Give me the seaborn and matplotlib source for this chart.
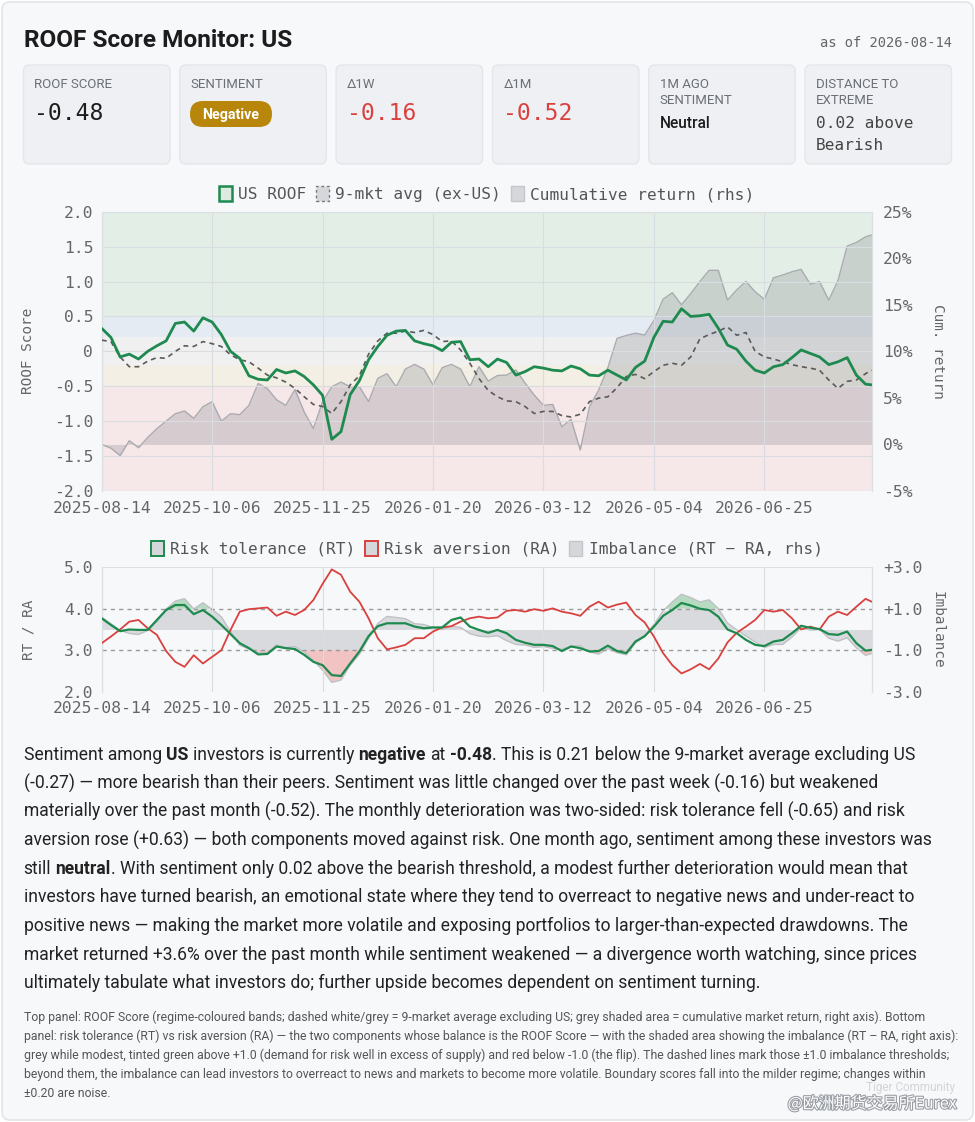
import numpy as np
import matplotlib
matplotlib.use("Agg")
import matplotlib.pyplot as plt
import seaborn as sns
from matplotlib.patches import FancyBboxPatch, Patch, Rectangle
from matplotlib.transforms import IdentityTransform, blended_transform_factory
import matplotlib.patheffects as pe

# ---------------- data (sampled every 3rd trading day + last day) ----------------
tick_labels = ["2025-08-14", "2025-10-06", "2025-11-25", "2026-01-20",
               "2026-03-12", "2026-05-04", "2026-06-25"]

us_roof = [0.33, 0.20, -0.08, -0.04, -0.11, 0.00, 0.08, 0.15, 0.40, 0.42,
           0.29, 0.48, 0.42, 0.24, 0.00, -0.10, -0.35, -0.40, -0.41, -0.26,
           -0.31, -0.28, -0.36, -0.48, -0.63, -1.26, -1.15, -0.62, -0.42,
           -0.12, 0.07, 0.23, 0.29, 0.30, 0.15, 0.11, 0.08, 0.01, 0.13,
           0.14, -0.12, -0.11, -0.22, -0.11, -0.16, -0.34, -0.29, -0.22, -0.24,
           -0.27, -0.28, -0.21, -0.25, -0.34, -0.35, -0.27, -0.34,
           -0.41, -0.23, -0.14, 0.20, 0.43, 0.42, 0.61, 0.50, 0.51, 0.53,
           0.33, 0.09, 0.03, -0.14, -0.27, -0.31, -0.22, -0.19, -0.09, 0.02,
           -0.03, -0.08, -0.19, -0.15, -0.09, -0.34, -0.47, -0.48]

avg_ex_us = [0.16, 0.14, -0.08, -0.22, -0.22, -0.14, -0.09, -0.10, 0.00, 0.08,
             0.07, 0.14, 0.11, 0.07, -0.05, -0.12, -0.15, -0.24, -0.34, -0.38,
             -0.44, -0.53, -0.65, -0.76, -0.79, -0.89, -0.72, -0.48, -0.35,
             -0.04, 0.15, 0.26, 0.26, 0.29, 0.27, 0.30, 0.24, 0.14, 0.15,
             0.02, -0.17, -0.39, -0.56, -0.65, -0.71, -0.72, -0.79, -0.89, -0.86,
             -0.86, -0.92, -0.94, -0.90, -0.72, -0.67, -0.65, -0.52,
             -0.36, -0.33, -0.39, -0.29, -0.20, -0.17, -0.20, -0.08, 0.18, 0.24,
             0.29, 0.35, 0.23, 0.27, 0.00, -0.08, -0.11, -0.15, -0.19, -0.22,
             -0.24, -0.27, -0.41, -0.53, -0.43, -0.41, -0.32, -0.27]

cum_return = [0.0, -0.4, -1.2, 0.4, -0.35, 0.75, 1.7, 2.5, 3.3, 3.6,
              2.8, 4.05, 4.6, 2.5, 3.3, 3.2, 4.2, 6.55, 6.0, 4.8,
              4.2, 5.9, 3.5, 1.7, 4.6, 6.2, 6.7, 6.2, 6.2,
              4.6, 7.1, 7.6, 6.2, 8.1, 8.6, 8.1, 6.4, 8.25, 8.6,
              8.1, 6.2, 8.35, 6.8, 7.4, 7.45, 8.0, 6.6, 5.3, 4.2,
              4.3, 1.9, 2.7, -0.6, 4.05, 5.85, 8.25, 11.4,
              11.7, 11.95, 11.75, 13.3, 15.6, 16.3, 15.0, 16.2, 17.5, 18.7,
              18.7, 15.5, 16.6, 17.5, 16.4, 15.6, 17.9, 18.2, 18.55, 18.8,
              17.2, 17.5, 15.5, 17.6, 21.3, 21.7, 22.3, 22.5]

risk_tol = [3.77, 3.61, 3.46, 3.50, 3.49, 3.49, 3.73, 3.97, 4.09, 4.09,
            3.87, 3.97, 3.81, 3.61, 3.39, 3.17, 3.05, 2.90, 2.91, 3.09,
            3.05, 3.03, 2.89, 2.72, 2.64, 2.40, 2.38, 2.68, 2.97,
            3.34, 3.58, 3.65, 3.65, 3.65, 3.57, 3.53, 3.55, 3.55, 3.73,
            3.79, 3.57, 3.49, 3.42, 3.49, 3.41, 3.25, 3.18, 3.13, 3.13,
            3.10, 2.98, 3.09, 3.05, 2.97, 2.98, 3.11, 2.98,
            2.93, 3.21, 3.34, 3.57, 3.83, 3.97, 4.14, 4.08, 4.00, 3.97,
            3.81, 3.50, 3.41, 3.25, 3.13, 3.10, 3.21, 3.25, 3.41, 3.59,
            3.54, 3.51, 3.39, 3.37, 3.45, 3.17, 2.99, 3.01]

risk_av = [3.17, 3.33, 3.50, 3.69, 3.73, 3.53, 3.37, 2.98, 2.72, 2.60,
           2.88, 2.68, 2.84, 3.00, 3.49, 3.93, 3.99, 4.01, 4.03, 3.83,
           3.93, 3.85, 3.97, 4.21, 4.60, 4.95, 4.82, 4.41, 4.17,
           3.77, 3.29, 3.02, 3.07, 3.13, 3.29, 3.29, 3.45, 3.55, 3.58,
           3.69, 3.77, 3.81, 3.77, 3.79, 3.95, 3.97, 3.93, 3.99, 3.95,
           4.01, 3.93, 3.89, 3.83, 4.05, 4.17, 4.03, 4.10,
           4.15, 3.85, 3.67, 3.33, 2.93, 2.64, 2.44, 2.54, 2.67, 2.54,
           2.80, 3.19, 3.42, 3.57, 3.73, 3.97, 3.93, 3.97, 3.77, 3.50,
           3.57, 3.50, 3.81, 3.93, 3.85, 4.05, 4.24, 4.17]

regime_bounds = [-2.0, -0.5, -0.2, 0.2, 0.5, 2.0]
regime_colors = ["#f6e7e8", "#f3efe4", "#eff0ef", "#e4ebf2", "#e3eee6"]

card_labels = [["ROOF SCORE"], ["SENTIMENT"], ["\u03941W"], ["\u03941M"],
               ["1M AGO", "SENTIMENT"], ["DISTANCE TO", "EXTREME"]]

n_days = 252
x = np.r_[np.arange(0, n_days - 2, 3), n_days - 1]
imbalance = np.array(risk_tol) - np.array(risk_av)

# ---------------- styling ----------------
sns.set_theme(style="white")
plt.rcParams['font.family'] = ['DejaVu Sans Mono', 'DejaVu Sans']
W, H = 975, 1122
fig = plt.figure(figsize=(W / 100, H / 100), dpi=100, facecolor="white")
R = fig.canvas.get_renderer()

PAGE = "#f7f8fa"
GREEN = "#1e8a4f"
RED = "#d9413f"
TICK = "#666666"
GRID = "#d9dce0"
SANS = ["Roboto", "DejaVu Sans"]
BODY = ["Roboto", "DejaVu Sans"]
MONO = ["DejaVu Sans Mono", "DejaVu Sans"]

def P(xp, yp):
    return (xp / W, 1 - yp / H)

def rect(l, t, r, b):
    return [l / W, 1 - b / H, (r - l) / W, (b - t) / H]

# page card
fig.add_artist(FancyBboxPatch((2, 2), W - 4, H - 4, boxstyle="round,pad=0,rounding_size=8",
                              transform=IdentityTransform(), fc=PAGE, ec="#e2e5e9", lw=1.2, zorder=-10))

# title
t = fig.text(*P(23.5, 47), "ROOF Score Monitor: US", fontsize=16, fontweight="bold",
             family=SANS, color="#1c1c1c", va="baseline", ha="left")
w = t.get_window_extent(renderer=R).width
t.set_fontsize(16 * 269 / w)
fig.text(*P(951.5, 43), "as of 2026-08-14", fontsize=9.9, family=MONO, color=TICK,
         va="center", ha="right")

# cards
card_w, card_step = 146.5, 156.3
for i, lab in enumerate(card_labels):
    x0 = 23.5 + card_step * i
    fig.add_artist(FancyBboxPatch((x0, H - 164), card_w, 99, boxstyle="round,pad=0,rounding_size=6",
                                  transform=IdentityTransform(), fc="#eef0f4", ec="#e3e6ea",
                                  lw=1, zorder=-9))
    for j, ln in enumerate(lab):
        fig.text(*P(x0 + 11, 85 + 16 * j), ln, fontsize=9.5, family=SANS, color="#6b6f76",
                 va="center", ha="left")

def cx(i):
    return 23.5 + card_step * i + 11

fig.text(*P(cx(0), 113), "-0.48", fontsize=16.6, family=MONO, color="#1c1c1c", va="center")
fig.add_artist(FancyBboxPatch((190, H - 127), 82, 26, boxstyle="round,pad=0,rounding_size=13",
                              transform=IdentityTransform(), fc="#b8860b", ec="none", zorder=-8))
fig.text(*P(231, 114.5), "Negative", fontsize=10.2, family=SANS, fontweight="bold",
         color="white", va="center", ha="center")
fig.text(*P(cx(2), 113), "-0.16", fontsize=16.6, family=MONO, color=RED, va="center")
fig.text(*P(cx(3), 113), "-0.52", fontsize=16.6, family=MONO, color=RED, va="center")
fig.text(*P(cx(4), 123), "Neutral", fontsize=11.2, family=SANS, fontweight="medium",
         color="#1c1c1c", va="center")
fig.text(*P(cx(5), 123), "0.02 above", fontsize=11.6, family=MONO, color="#444444", va="center")
fig.text(*P(cx(5), 145), "Bearish", fontsize=11.6, family=MONO, color="#444444", va="center")

# ---------------- top chart ----------------
ax = fig.add_axes(rect(101.7, 211.7, 871.7, 491))
ax2 = ax.twinx()
ax.set_zorder(ax2.get_zorder() + 1)
ax.patch.set_visible(False)
ax2.patch.set_visible(False)
ax.set_xlim(0, n_days - 1)
ax.set_ylim(-2, 2)
ax2.set_ylim(-5, 25)

band_tr = blended_transform_factory(ax2.transAxes, ax.transData)
for lo, hi, c in zip(regime_bounds[:-1], regime_bounds[1:], regime_colors):
    ax2.add_patch(Rectangle((0, lo), 1, hi - lo, transform=band_tr, fc=c, ec="none", zorder=0))

ax2.fill_between(x, 0, cum_return, color="#8e9096", alpha=0.30, lw=0, zorder=2)
sns.lineplot(x=x, y=cum_return, ax=ax2, color="#a9abb0", linewidth=1.0, zorder=3)

sns.lineplot(x=x, y=avg_ex_us, ax=ax, color="#5a5a5a", linewidth=1.2,
             linestyle=(0, (3, 2.5)), zorder=4)
sns.lineplot(x=x, y=us_roof, ax=ax, color=GREEN, linewidth=2.0, zorder=5)

ax.set_xticks(np.arange(0, n_days, 36))
ax.set_xticklabels(tick_labels)
top_ticks = [2.0, 1.5, 1.0, 0.5, 0.0, -0.5, -1.0, -1.5, -2.0]
ax.set_yticks(top_ticks)
ax.set_yticklabels(["2.0", "1.5", "1.0", "0.5", "0", "-0.5", "-1.0", "-1.5", "-2.0"])
ret_ticks = [25, 20, 15, 10, 5, 0, -5]
ax2.set_yticks(ret_ticks)
ax2.set_yticklabels([f"{v}%" for v in ret_ticks])
ax.grid(True, color=GRID, lw=0.8)
ax2.grid(False)
for a in (ax, ax2):
    for s in ("top", "bottom"):
        a.spines[s].set_visible(False)
    for s in ("left", "right"):
        a.spines[s].set_color("#dcdfe3")
        a.spines[s].set_linewidth(0.8)
    a.tick_params(length=0, labelsize=11.8, labelcolor=TICK)
ax.tick_params(axis="y", pad=6)
ax.tick_params(axis="x", pad=7)
ax2.tick_params(axis="y", pad=8)
ax.set_xlabel("")
ax.set_ylabel("ROOF Score", fontsize=10.4, color=TICK)
ax.yaxis.set_label_coords(-0.0866, 0.5)
ax2.set_ylabel("Cum. return", fontsize=10.4, color=TICK, rotation=-90, va="center")
ax2.yaxis.set_label_coords(1.086, 0.5)

h_top = [Patch(fc="#dde9e1", ec=GREEN, lw=1.8),
         Patch(fc="#d6d7da", ec="#777777", lw=1.0, ls=(0, (2, 2))),
         Patch(fc="#d6d7da", ec="#c4c6ca", lw=1.0)]
leg = ax.legend(h_top, ["US ROOF", "9-mkt avg (ex-US)", "Cumulative return (rhs)"],
                loc="center", bbox_to_anchor=(0.5, 1.063), ncol=3, frameon=False,
                fontsize=11.6, handlelength=0.8, handleheight=1.05, handletextpad=0.4,
                columnspacing=0.6, borderaxespad=0)
for tx in leg.get_texts():
    tx.set_color("#555555")

# ---------------- bottom chart ----------------
bx = fig.add_axes(rect(101.7, 567.3, 871.7, 691.7))
bx2 = bx.twinx()
bx.set_zorder(bx2.get_zorder() + 1)
bx.patch.set_visible(False)
bx2.patch.set_visible(False)
bx.set_xlim(0, n_days - 1)
bx.set_ylim(2, 5)
bx2.set_ylim(-3, 3)

bx2.fill_between(x, 0, np.clip(imbalance, -1, 1), color="#d9dadd", lw=0, zorder=1)
bx2.fill_between(x, 1, imbalance, where=imbalance > 1, interpolate=True,
                 color="#b6dbc1", lw=0, zorder=1)
bx2.fill_between(x, -1, imbalance, where=imbalance < -1, interpolate=True,
                 color="#f1c3c3", lw=0, zorder=1)
sns.lineplot(x=x, y=imbalance, ax=bx2, color="#bfc1c5", linewidth=1.0, zorder=2)
for lvl in (1, -1):
    bx2.axhline(lvl, color="#9a9a9a", lw=1.0, ls=(0, (3, 3)), zorder=3)

sns.lineplot(x=x, y=risk_av, ax=bx, color=RED, linewidth=1.3, zorder=5)
sns.lineplot(x=x, y=risk_tol, ax=bx, color=GREEN, linewidth=1.6, zorder=6)

bx.set_xticks(np.arange(0, n_days, 36))
bx.set_xticklabels(tick_labels)
bx.set_yticks([5, 4, 3, 2])
bx.set_yticklabels(["5.0", "4.0", "3.0", "2.0"])
bx2.set_yticks([3, 1, -1, -3])
bx2.set_yticklabels(["+3.0", "+1.0", "-1.0", "-3.0"])
bx.grid(True, axis="x", color=GRID, lw=0.8)
bx2.grid(False)
for lvl in (5, 2):
    bx.axhline(lvl, color="#dcdfe3", lw=0.8, zorder=0)
for a in (bx, bx2):
    for s in ("top", "bottom"):
        a.spines[s].set_visible(False)
    for s in ("left", "right"):
        a.spines[s].set_color("#dcdfe3")
        a.spines[s].set_linewidth(0.8)
    a.tick_params(length=0, labelsize=11.8, labelcolor=TICK)
bx.tick_params(axis="y", pad=6)
bx.tick_params(axis="x", pad=7)
bx2.tick_params(axis="y", pad=8)
bx.set_xlabel("")
bx.set_ylabel("RT / RA", fontsize=10.4, color=TICK)
bx.yaxis.set_label_coords(-0.0866, 0.5)
bx2.set_ylabel("Imbalance", fontsize=10.4, color=TICK, rotation=-90, va="center")
bx2.yaxis.set_label_coords(1.086, 0.5)

h_bot = [Patch(fc="#d6d7da", ec=GREEN, lw=1.4),
         Patch(fc="#d6d7da", ec=RED, lw=1.4),
         Patch(fc="#d6d7da", ec="#c4c6ca", lw=1.0)]
leg2 = bx.legend(h_bot, ["Risk tolerance (RT)", "Risk aversion (RA)", "Imbalance (RT \u2212 RA, rhs)"],
                 loc="center", bbox_to_anchor=(0.5, 1.147), ncol=3, frameon=False,
                 fontsize=11.6, handlelength=0.8, handleheight=1.05, handletextpad=0.4,
                 columnspacing=0.6, borderaxespad=0)
for tx in leg2.get_texts():
    tx.set_color("#555555")

# ---------------- rich text ----------------
def measure(s, size, weight, family):
    tt = fig.text(0, 0, s, fontsize=size, fontweight=weight, family=family)
    ww = tt.get_window_extent(renderer=R).width
    tt.remove()
    return ww

def draw_rich(x0, yb, line, size, family, color):
    sp = measure("a a", size, "normal", family) - measure("aa", size, "normal", family)
    xx = x0
    made = []
    for k, seg in enumerate(line.split("**")):
        if not seg:
            continue
        bold = k % 2 == 1
        lead = len(seg) - len(seg.lstrip(" "))
        trail = len(seg) - len(seg.rstrip(" "))
        core = seg.strip(" ")
        xx += lead * sp
        if core:
            tt = fig.text(xx / W, 1 - yb / H, core, fontsize=size,
                          fontweight="bold" if bold else "normal", family=family,
                          color=color, va="baseline", ha="left")
            made.append(tt)
            xx += tt.get_window_extent(renderer=R).width
        xx += trail * sp
    return xx, made

def fitted_size(line, target, family, base=12):
    end, made = draw_rich(0, 0, line, base, family, "k")
    for m in made:
        m.remove()
    return base * target / end

para = [
    "Sentiment among **US** investors is currently **negative** at **-0.48**. This is 0.21 below the 9-market average excluding US",
    "(-0.27) \u2014 more bearish than their peers. Sentiment was little changed over the past week (-0.16) but weakened",
    "materially over the past month (-0.52). The monthly deterioration was two-sided: risk tolerance fell (-0.65) and risk",
    "aversion rose (+0.63) \u2014 both components moved against risk. One month ago, sentiment among these investors was",
    "still **neutral**. With sentiment only 0.02 above the bearish threshold, a modest further deterioration would mean that",
    "investors have turned bearish, an emotional state where they tend to overreact to negative news and under-react to",
    "positive news \u2014 making the market more volatile and exposing portfolios to larger-than-expected drawdowns. The",
    "market returned +3.6% over the past month while sentiment weakened \u2014 a divergence worth watching, since prices",
    "ultimately tabulate what investors do; further upside becomes dependent on sentiment turning.",
]
ps = fitted_size(para[0], 913 - 23.5, BODY)
for i, ln in enumerate(para):
    draw_rich(23.5, 760 + 28.5 * i, ln, ps, BODY, "#222222")

foot = [
    "Top panel: ROOF Score (regime-coloured bands; dashed white/grey = 9-market average excluding US; grey shaded area = cumulative market return, right axis). Bottom",
    "panel: risk tolerance (RT) vs risk aversion (RA) \u2014 the two components whose balance is the ROOF Score \u2014 with the shaded area showing the imbalance (RT \u2013 RA, right axis):",
    "grey while modest, tinted green above +1.0 (demand for risk well in excess of supply) and red below -1.0 (the flip). The dashed lines mark those \u00b11.0 imbalance thresholds;",
    "beyond them, the imbalance can lead investors to overreact to news and markets to become more volatile. Boundary scores fall into the milder regime; changes within",
    "\u00b10.20 are noise.",
]
fs = fitted_size(foot[0], 925 - 23.5, SANS)
for i, ln in enumerate(foot):
    draw_rich(23.5, 1021 + 19 * i, ln, fs, SANS, "#555555")

# watermark
fig.text(*P(955, 1087), "Tiger Community", fontsize=8.5, family=SANS, color="#c9ccd0",
         alpha=0.8, va="center", ha="right")
fig.text(*P(957, 1104), "@\u6b27\u6d32\u671f\u8d27\u4ea4\u6613\u6240Eurex", fontsize=11.5,
         family=["Noto Sans CJK SC", "DejaVu Sans"], color="white", va="center", ha="right",
         path_effects=[pe.withStroke(linewidth=1.6, foreground="#9a9ea4")])

fig.savefig("out.png", dpi=100, facecolor="white")
